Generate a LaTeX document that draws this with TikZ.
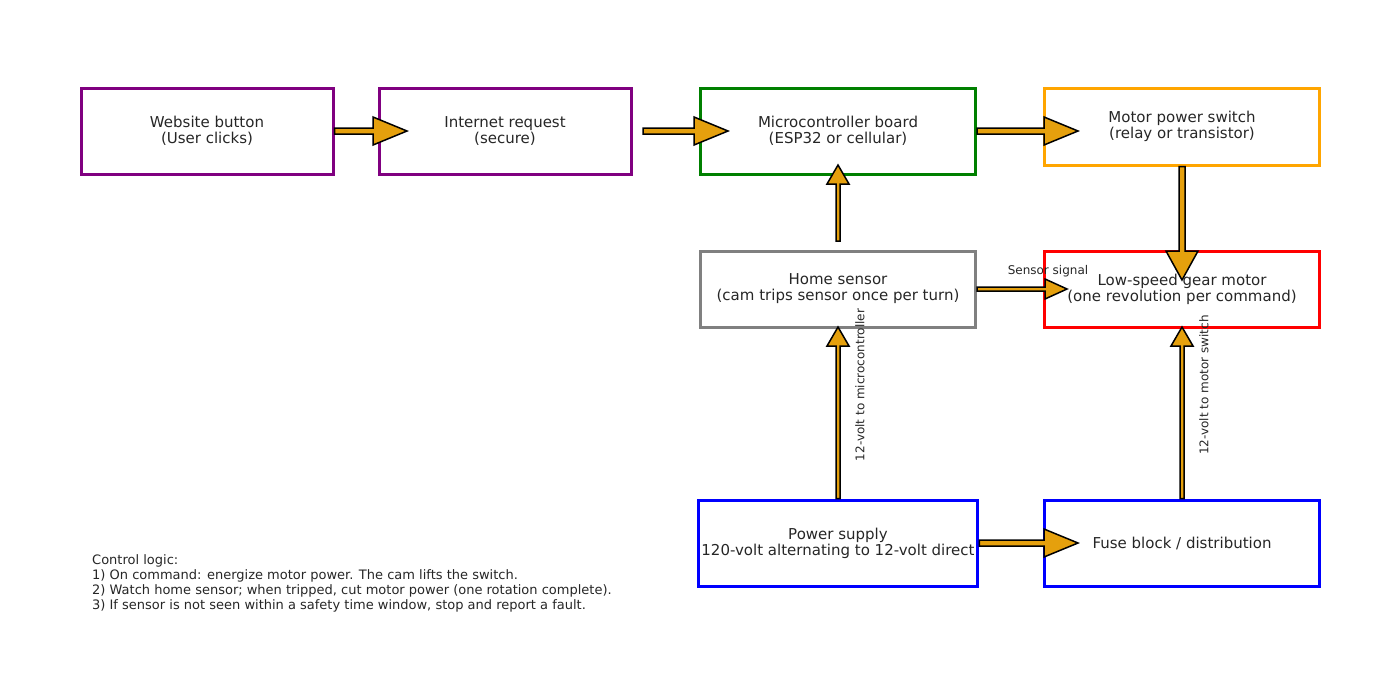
\documentclass[tikz,border=0pt]{standalone}
\usepackage{fontspec}
\setmainfont{DejaVu Sans}
\usetikzlibrary{calc}
\definecolor{ar}{HTML}{E5A00D}
\definecolor{tx}{HTML}{262626}
\newcommand\fatarrow[5]{%
 \coordinate (hb) at ($(#2)!#5!(#1)$);
 \draw[line width=1.5pt,fill=ar,line join=miter] ($(#1)!#3!90:(#2)$) -- ($(hb)!#3!90:(#2)$) -- ($(hb)!#4!90:(#2)$) -- (#2) -- ($(hb)!#4!-90:(#2)$) -- ($(hb)!#3!-90:(#2)$) -- ($(#1)!#3!-90:(#2)$) -- cycle;}
\begin{document}
\begin{tikzpicture}[x=1pt,y=-1pt,
 box/.style={draw,line width=3pt,minimum width=275pt,align=center,text=tx,font=\fontsize{15}{16}\selectfont},
 lab/.style={text=tx,font=\fontsize{12}{13}\selectfont}]
\useasboundingbox (0,0) rectangle (1400,694);
\node[box,draw={rgb,255:red,128;green,0;blue,128},minimum width=252pt,minimum height=86pt] (ws) at (207,131) {Website button\\(User clicks)};
\node[box,draw={rgb,255:red,128;green,0;blue,128},minimum width=252pt,minimum height=86pt] (ir) at (505,131) {Internet request\\(secure)};
\node[box,draw={rgb,255:red,0;green,128;blue,0},minimum height=86pt] (mc) at (838,131) {Microcontroller board\\(ESP32 or cellular)};
\node[box,draw={rgb,255:red,255;green,165;blue,0},minimum height=77pt] (ms) at (1182,126.5) {Motor power switch\\(relay or transistor)};
\node[box,draw={rgb,255:red,128;green,128;blue,128},minimum height=76pt] (hs) at (838,289) {Home sensor\\(cam trips sensor once per turn)};
\node[box,draw=red,minimum height=76pt] (gm) at (1182,289) {Low-speed gear motor\\(one revolution per command)};
\node[box,draw=blue,minimum height=86pt] (ps) at (838,543) {Power supply\\120-volt alternating to 12-volt direct};
\node[box,draw=blue,minimum height=86pt] (fb) at (1182,543) {Fuse block / distribution};
\coordinate (t1) at (407,131); \coordinate (s2) at (643,131); \coordinate (t2) at (728,131);
\coordinate (t3) at (1078,131); \coordinate (s4) at (838,241); \coordinate (t4) at (838,165);
\coordinate (t5) at (1182,280); \coordinate (t6) at (1067,289);
\coordinate (t7) at (838,327); \coordinate (t8) at (1182,327); \coordinate (t9) at (1078,543);
\fatarrow{ws.east}{t1}{3pt}{14pt}{34pt}
\fatarrow{s2}{t2}{3pt}{14pt}{34pt}
\fatarrow{mc.east|-t3}{t3}{3pt}{14pt}{34pt}
\fatarrow{s4}{t4}{2pt}{11pt}{19pt}
\fatarrow{ms.south}{t5}{3pt}{16pt}{29pt}
\fatarrow{hs.east}{t6}{2pt}{10pt}{22pt}
\fatarrow{ps.north}{t7}{2pt}{11pt}{19pt}
\fatarrow{fb.north}{t8}{2pt}{11pt}{19pt}
\fatarrow{ps.east}{t9}{3pt}{14pt}{34pt}
\node[lab] (l1) at (1048,271) {Sensor signal};
\node[lab,rotate=90] (l2) at (860,385) {12-volt to microcontroller};
\node[lab,rotate=90] (l3) at (1204,385) {12-volt to motor switch};
\node[text=tx,font=\fontsize{13}{15}\selectfont,align=left,anchor=north west,inner sep=0] (cl) at (92,554) {Control logic:\\1) On command: energize motor power. The cam lifts the switch.\\2) Watch home sensor; when tripped, cut motor power (one rotation complete).\\3) If sensor is not seen within a safety time window, stop and report a fault.};
\end{tikzpicture}
\end{document}
